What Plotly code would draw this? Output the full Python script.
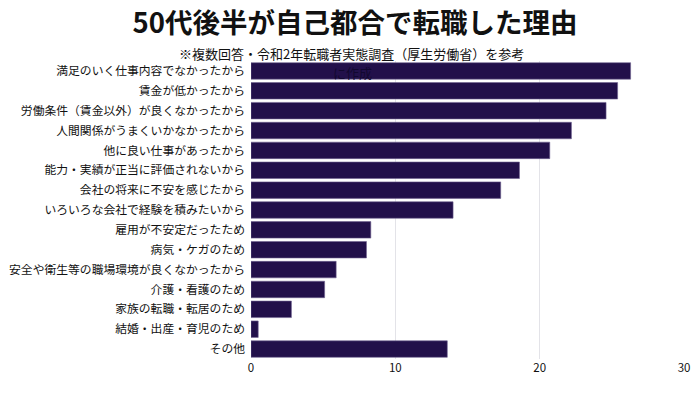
import plotly.graph_objects as go

categories = [
    "満足のいく仕事内容でなかったから",
    "賃金が低かったから",
    "労働条件（賃金以外）が良くなかったから",
    "人間関係がうまくいかなかったから",
    "他に良い仕事があったから",
    "能力・実績が正当に評価されないから",
    "会社の将来に不安を感じたから",
    "いろいろな会社で経験を積みたいから",
    "雇用が不安定だったため",
    "病気・ケガのため",
    "安全や衛生等の職場環境が良くなかったから",
    "介護・看護のため",
    "家族の転職・転居のため",
    "結婚・出産・育児のため",
    "その他",
]
values = [26.3, 25.4, 24.6, 22.2, 20.7, 18.6, 17.3, 14.0, 8.3, 8.0, 5.9, 5.1, 2.8, 0.5, 13.6]
x_ticks = [0, 10, 20, 30]

title_text = "50代後半が自己都合で転職した理由"
subtitle_line1 = "※複数回答・令和2年転職者実態調査（厚生労働省）を参考"
subtitle_line2 = "に作成"

FONT = "Noto Sans CJK JP"
BAR = "#22104a"

fig = go.Figure(go.Bar(
    x=values,
    y=categories,
    orientation="h",
    marker=dict(color=BAR, line=dict(color="#6f6290", width=0.6)),
    hoverinfo="x+y",
))

fig.update_layout(
    width=700,
    height=393,
    margin=dict(l=251, r=16, t=61, b=34, autoexpand=False),
    paper_bgcolor="white",
    plot_bgcolor="white",
    font=dict(family=FONT, color="#111111"),
    bargap=0.17,
    showlegend=False,
    title=dict(
        text=f"<b>{title_text}</b>",
        x=355 / 700, xanchor="center",
        y=1 - 23.5 / 393, yanchor="middle",
        font=dict(family=FONT, size=27.5, color="#111111"),
    ),
    xaxis=dict(
        range=[0, 30],
        tickvals=x_ticks,
        showgrid=True,
        gridcolor="#e3e3e8",
        gridwidth=1,
        zeroline=False,
        showline=False,
        automargin=False,
        tickfont=dict(family=FONT, size=11.5, color="#111111"),
        ticks="",
    ),
    yaxis=dict(
        autorange="reversed",
        showgrid=False,
        showline=False,
        automargin=False,
        ticks="",
        ticklabelstandoff=5,
        tickfont=dict(family=FONT, size=11.8, color="#111111"),
    ),
    annotations=[
        dict(text=subtitle_line1, xref="paper", yref="paper",
             x=(351 - 251) / 433, y=1 + (61 - 53.5) / 298,
             xanchor="center", yanchor="middle", showarrow=False,
             font=dict(family=FONT, size=13, color="#111111")),
        dict(text=subtitle_line2, xref="paper", yref="paper",
             x=(352 - 251) / 433, y=1 - (73 - 61) / 298,
             xanchor="center", yanchor="middle", showarrow=False,
             font=dict(family=FONT, size=13, color="#120830")),
    ],
)

fig.write_html(
    "out.html",
    config={"displayModeBar": False},
    post_script="document.body.style.margin='0';document.body.style.overflow='hidden';",
)
